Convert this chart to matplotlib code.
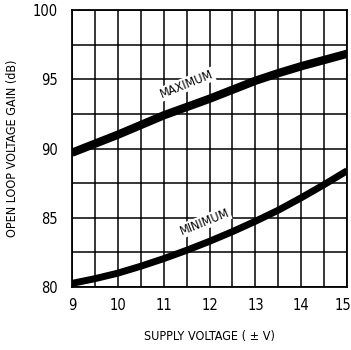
import numpy as np
import matplotlib
matplotlib.use('Agg')
import matplotlib.pyplot as plt
import matplotlib.transforms as mtransforms

# supply voltage (+/- V)
supply_v = [9, 9.5, 10, 10.5, 11, 11.5, 12, 12.5, 13, 13.5, 14, 14.5, 15]
# open loop gain, dB
gain_max = [89.7, 90.35, 91.0, 91.7, 92.4, 93.0, 93.6, 94.25, 94.9, 95.45, 95.95, 96.4, 96.85]
gain_min = [80.26, 80.6, 81.0, 81.5, 82.05, 82.65, 83.3, 84.0, 84.75, 85.55, 86.45, 87.4, 88.4]

x_ticks = [9, 10, 11, 12, 13, 14, 15]
y_ticks = [80, 85, 90, 95, 100]

plt.rcParams['font.family'] = ['DejaVu Sans']
plt.rcParams['font.stretch'] = 'condensed'

fig = plt.figure(figsize=(3.51, 3.50), dpi=100)
ax = fig.add_axes([0.205, 0.18, 0.784, 0.791])

ax.plot(supply_v, gain_max, c='k', lw=6, solid_capstyle='butt')
ax.plot(supply_v, gain_min, c='k', lw=5, solid_capstyle='butt')

ax.set_xlim(9, 15)
ax.set_ylim(80, 100)
ax.set_xticks(x_ticks)
ax.set_yticks(y_ticks)
ax.set_xticks(np.arange(9, 15.01, 0.5), minor=True)
ax.set_yticks(np.arange(80, 100.01, 2.5), minor=True)
ax.grid(which='both', color='k', lw=1.1)
ax.tick_params(which='both', length=0, labelsize=10.5)
ax.tick_params(axis='y', pad=10)
ax.tick_params(axis='x', pad=8)
for s in ax.spines.values():
    s.set_linewidth(1.3)

# nudge the "15" label so it stays inside the picture
last = ax.xaxis.get_major_ticks()[-1].label1
last.set_transform(last.get_transform() +
                   mtransforms.ScaledTranslation(-4 / 100, 0, fig.dpi_scale_trans))

ax.text(11.51, 94.66, 'MAXIMUM', rotation=22, ha='center', va='center', fontsize=9,
        bbox=dict(fc='white', ec='none', pad=0.5))
ax.text(11.9, 84.7, 'MINIMUM', rotation=22, ha='center', va='center', fontsize=9,
        bbox=dict(fc='white', ec='none', pad=0.5))

ax.set_xlabel('SUPPLY VOLTAGE ( ± V)', fontsize=9, labelpad=12)
ax.set_ylabel('OPEN LOOP VOLTAGE GAIN (dB)', fontsize=9, labelpad=10)

plt.savefig('out.png', dpi=100)
